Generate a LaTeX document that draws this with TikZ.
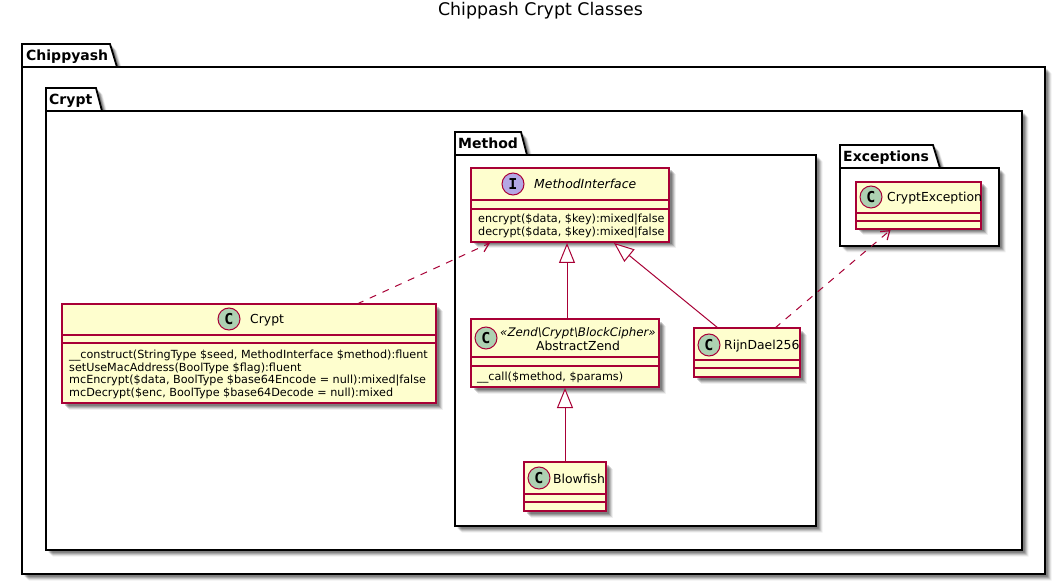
\documentclass[tikz,border=0pt]{standalone}
\usepackage{fontspec}
\setmainfont{DejaVu Sans}
\newfontfamily\monoicon{DejaVu Sans Mono}
\usetikzlibrary{arrows.meta,shadows}
\definecolor{umlred}{HTML}{A80036}
\definecolor{umlfill}{HTML}{FEFECE}
\definecolor{umlc}{HTML}{ADD1B2}
\definecolor{umli}{HTML}{B4A7E5}
\tikzset{
  softshadow/.style={
    drop shadow={shadow xshift=2.5pt,shadow yshift=-2.5pt,opacity=.18,fill=black},
    drop shadow={shadow xshift=3.5pt,shadow yshift=-3.5pt,opacity=.16,fill=black},
    drop shadow={shadow xshift=4.5pt,shadow yshift=-4.5pt,opacity=.14,fill=black},
    drop shadow={shadow xshift=5.5pt,shadow yshift=-5.5pt,opacity=.10,fill=black},
    drop shadow={shadow xshift=6.5pt,shadow yshift=-6.5pt,opacity=.06,fill=black}},
  pkgbody/.style={draw=black,line width=1.8pt,fill=white,softshadow,line join=miter},
  pkgrule/.style={line width=1.8pt},
  pkglabel/.style={font=\fontsize{14}{16}\bfseries\selectfont,anchor=base west,inner sep=0pt,text=black},
  classbox/.style={draw=umlred,fill=umlfill,line width=1.4pt,inner sep=0pt,outer sep=0pt,softshadow},
  sepline/.style={draw=umlred,line width=1.4pt},
  spot/.style={circle,draw=umlred,line width=1pt,minimum size=22pt,inner sep=0pt,outer sep=0pt,
     font=\fontsize{15}{15}\monoicon\bfseries\selectfont},
  classname/.style={font=\fontsize{12.4}{14}\selectfont,anchor=base west,inner sep=0pt},
  member/.style={font=\fontsize{11.2}{12}\selectfont,anchor=base west,inner sep=0pt},
  depend/.style={draw=umlred,line width=1pt,dashed,dash pattern=on 7pt off 7pt,-{Straight Barb[length=8pt,width=11pt,line width=1.2pt]}},
  extend/.style={draw=umlred,line width=1pt,-{Triangle[open,length=20pt,width=16pt,fill=white,line width=1pt]}}
}
\begin{document}
\begin{tikzpicture}[x=1pt,y=-1pt]
\useasboundingbox (0,0) rectangle (1057,585);
\fill[white] (0,0) rectangle (1057,585);
\node[font=\fontsize{17.4}{20}\selectfont,anchor=base,inner sep=0pt] (title) at (540.5,16) {Chippash Crypt Classes};

% packages
\path[pkgbody] (22,67) -- (22,44) -- (110,44) -- (117,67) -- (1045,67) -- (1045,574) -- (22,574) -- cycle;
\draw[pkgrule] (22,67) -- (117,67);
\node[pkglabel] (pChippyash) at (26,61) {Chippyash};

\path[pkgbody] (46,111) -- (46,88) -- (96,88) -- (102,111) -- (1022,111) -- (1022,550) -- (46,550) -- cycle;
\draw[pkgrule] (46,111) -- (102,111);
\node[pkglabel] (pCrypt) at (49,105) {Crypt};

\path[pkgbody] (455,155) -- (455,132) -- (521,132) -- (527,155) -- (816,155) -- (816,526) -- (455,526) -- cycle;
\draw[pkgrule] (455,155) -- (527,155);
\node[pkglabel] (pMethod) at (458,149) {Method};

\path[pkgbody] (840,168) -- (840,145) -- (933,145) -- (940,168) -- (999,168) -- (999,246) -- (840,246) -- cycle;
\draw[pkgrule] (840,168) -- (940,168);
\node[pkglabel] (pExceptions) at (843,162) {Exceptions};

% classes
\node[classbox,minimum width=198pt,minimum height=74pt] (mi) at (570,205) {};
\draw[sepline] (mi.west |- 0,200) -- (mi.east |- 0,200);
\draw[sepline] (mi.west |- 0,209) -- (mi.east |- 0,209);
\node[spot,fill=umli] (miSpot) at (513,184) {I};
\node[classname,font=\fontsize{12.4}{14}\itshape\selectfont] (miName) at (534,189) {MethodInterface};
\node[member] (miM1) at (478,223) {encrypt(\$data, \$key):mixed|false};
\node[member] (miM2) at (478,236) {decrypt(\$data, \$key):mixed|false};

\node[classbox,minimum width=374pt,minimum height=99pt] (crypt) at (249,353.5) {};
\draw[sepline] (crypt.west |- 0,335) -- (crypt.east |- 0,335);
\draw[sepline] (crypt.west |- 0,343) -- (crypt.east |- 0,343);
\node[spot,fill=umlc] (cryptSpot) at (229,319) {C};
\node[classname] (cryptName) at (250,323) {Crypt};
\node[member] (cryptM1) at (69,358) {\_\_construct(StringType \$seed, MethodInterface \$method):fluent};
\node[member] (cryptM2) at (69,371) {setUseMacAddress(BoolType \$flag):fluent};
\node[member] (cryptM3) at (69,383) {mcEncrypt(\$data, BoolType \$base64Encode = null):mixed|false};
\node[member] (cryptM4) at (69,396) {mcDecrypt(\$enc, BoolType \$base64Decode = null):mixed};

\node[classbox,minimum width=188pt,minimum height=68pt] (az) at (565,353) {};
\draw[sepline] (az.west |- 0,357) -- (az.east |- 0,357);
\draw[sepline] (az.west |- 0,366) -- (az.east |- 0,366);
\node[spot,fill=umlc] (azSpot) at (486,338) {C};
\node[classname,font=\fontsize{11.8}{14}\itshape\selectfont,anchor=base] (azStereo) at (578,336) {«Zend\textbackslash Crypt\textbackslash BlockCipher»};
\node[classname,anchor=base] (azName) at (578,350) {AbstractZend};
\node[member] (azM1) at (477,380) {\_\_call(\$method, \$params)};

\node[classbox,minimum width=106pt,minimum height=49pt] (rd) at (747,352.5) {};
\draw[sepline] (rd.west |- 0,360) -- (rd.east |- 0,360);
\draw[sepline] (rd.west |- 0,368) -- (rd.east |- 0,368);
\node[spot,fill=umlc] (rdSpot) at (709,345) {C};
\node[classname] (rdName) at (724,349) {RijnDael256};

\node[classbox,minimum width=125pt,minimum height=47pt] (ce) at (918.5,205.5) {};
\draw[sepline] (ce.west |- 0,213) -- (ce.east |- 0,213);
\draw[sepline] (ce.west |- 0,221) -- (ce.east |- 0,221);
\node[spot,fill=umlc] (ceSpot) at (871,197) {C};
\node[classname] (ceName) at (887,202) {CryptException};

\node[classbox,minimum width=82pt,minimum height=49pt] (bf) at (565,486.5) {};
\draw[sepline] (bf.west |- 0,494) -- (bf.east |- 0,494);
\draw[sepline] (bf.west |- 0,502) -- (bf.east |- 0,502);
\node[spot,fill=umlc] (bfSpot) at (539,478) {C};
\node[classname] (bfName) at (553,483) {Blowfish};

% connectors
\draw[depend] ([xshift=108pt]crypt.north) -- ([xshift=-80pt,yshift=-1pt]mi.south);
\draw[extend] ([xshift=2pt]az.north) -- ([xshift=-3pt,yshift=-1pt]mi.south);
\draw[extend] ([xshift=-29pt]rd.north) -- ([xshift=44pt,yshift=-1pt]mi.south);
\draw[extend] (bf.north) -- ([yshift=-1pt]az.south);
\draw[depend] ([xshift=28pt]rd.north) -- ([xshift=-28pt,yshift=-1pt]ce.south);
\end{tikzpicture}
\end{document}
